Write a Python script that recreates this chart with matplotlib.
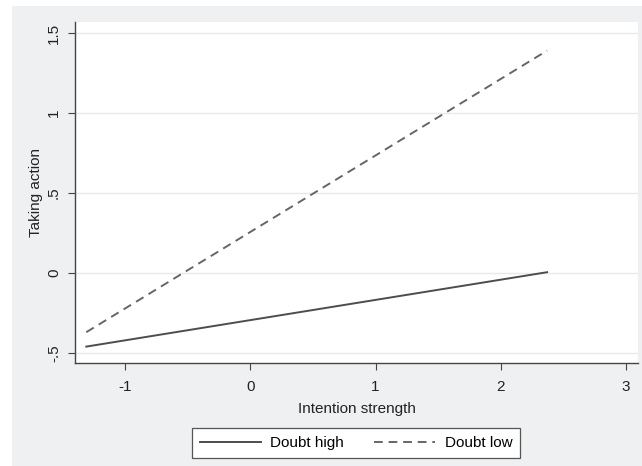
import matplotlib
matplotlib.use("Agg")
import matplotlib.pyplot as plt
from matplotlib.patches import Rectangle

plt.rcParams['font.family'] = ['Liberation Sans', 'DejaVu Sans']

# valores
intention = [-1.31, 2.37]
doubt_high = [-0.46, 0.005]
doubt_low = [-0.37, 1.39]
x_ticks = [-1, 0, 1, 2, 3]
y_ticks = [-0.5, 0, 0.5, 1, 1.5]
y_tick_labels = ["-.5", "0", ".5", "1", "1.5"]

W, H = 642, 466
fig = plt.figure(figsize=(W / 100, H / 100), dpi=100)
fig.patch.set_facecolor("white")

# fondo gris estilo Stata
fondo = Rectangle((12 / W, 0), 1 - 12 / W, 1 - 6 / H,
                  transform=fig.transFigure, facecolor="#eff0f1",
                  edgecolor="none", zorder=-10)
fig.add_artist(fondo)

ax = fig.add_axes([75 / W, (H - 363) / H, (638 - 75) / W, (363 - 22) / H])
ax.set_facecolor("white")

ax.plot(intention, doubt_high, color="#4d4d4d", lw=1.4, label="Doubt high")
ax.plot(intention, doubt_low, color="#666666", lw=1.4, ls=(0, (4.5, 3)), label="Doubt low")

ax.set_xlim(-1.4, 3.096)
ax.set_ylim(-0.5625, 1.569)
ax.set_xticks(x_ticks)
ax.set_xticklabels([str(t) for t in x_ticks])
ax.set_yticks(y_ticks)
ax.set_yticklabels(y_tick_labels, rotation=90, va="center")

ax.yaxis.grid(True, color="#e9eaeb", lw=1.0)
ax.set_axisbelow(True)

for s in ["top", "right"]:
    ax.spines[s].set_visible(False)
for s in ["left", "bottom"]:
    ax.spines[s].set_color("#444444")
    ax.spines[s].set_linewidth(1.0)

ax.tick_params(axis="x", direction="out", length=5, width=0.8, color="#444444",
               labelsize=11, labelcolor="#222222", pad=7)
ax.tick_params(axis="y", direction="out", length=5, width=0.8, color="#444444",
               labelsize=11, labelcolor="#222222", pad=5)

ax.set_xlabel("Intention strength", fontsize=11, color="#222222", labelpad=6)
ax.set_ylabel("Taking action", fontsize=11, color="#222222", labelpad=3)

leg = fig.legend(loc="center", bbox_to_anchor=(356 / W, (H - 443) / H), ncol=2,
                 fontsize=11, frameon=True, fancybox=False, handlelength=4.0,
                 columnspacing=2.0, handletextpad=0.6, borderpad=0.5)
leg.get_frame().set_edgecolor("#555555")
leg.get_frame().set_linewidth(0.9)
leg.get_frame().set_facecolor("white")
leg.get_frame().set_alpha(1)

fig.savefig("out.png", dpi=100)
